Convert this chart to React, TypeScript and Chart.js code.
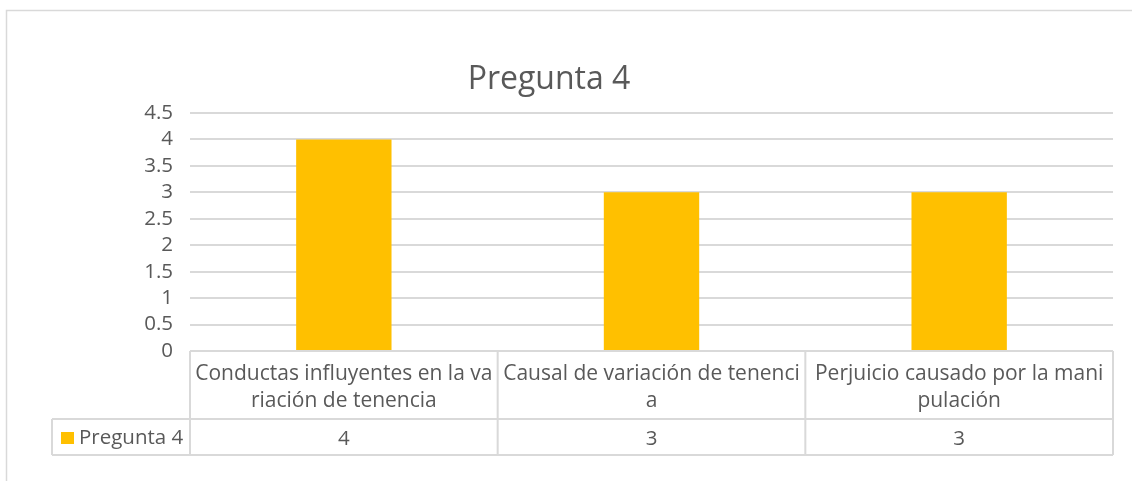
import React, { useEffect, useRef } from "react";
import { Chart, registerables } from "chart.js";

Chart.register(...registerables);

const title = "Pregunta 4";
const seriesName = "Pregunta 4";
const categories: string[][] = [
  ["Conductas influyentes en la va", "riación de tenencia"],
  ["Causal de variación de tenenci", "a"],
  ["Perjuicio causado por la mani", "pulación"],
];
const values: number[] = [4, 3, 3];
const yMin = 0;
const yMax = 4.5;
const yStep = 0.5;

const FONT = "'Open Sans', sans-serif";
const TEXT = "#595959";
const LINE = "#d9d9d9";
const BAR = "#FFC000";

const tablePlugin = {
  id: "excelTable",
  afterDraw(chart: any) {
    const { ctx, chartArea } = chart;
    const { left, right, bottom } = chartArea;
    const n = categories.length;
    const colW = (right - left) / n;
    const row1Top = bottom;
    const row1Bot = bottom + 68;
    const row2Bot = row1Bot + 36;
    const legendLeft = 52;
    ctx.save();
    ctx.strokeStyle = LINE;
    ctx.lineWidth = 1.5;
    ctx.beginPath();
    ctx.moveTo(6.5, chart.height);
    ctx.lineTo(6.5, 10.5);
    ctx.lineTo(chart.width, 10.5);
    ctx.stroke();
    ctx.fillStyle = TEXT;
    ctx.font = `32px ${FONT}`;
    ctx.textAlign = "center";
    ctx.textBaseline = "alphabetic";
    ctx.fillText(title, 549, 89);
    ctx.strokeStyle = LINE;
    ctx.lineWidth = 2;
    ctx.beginPath();
    ctx.moveTo(left, row1Top);
    ctx.lineTo(right, row1Top);
    ctx.moveTo(legendLeft, row1Bot);
    ctx.lineTo(right, row1Bot);
    ctx.moveTo(legendLeft, row2Bot);
    ctx.lineTo(right, row2Bot);
    for (let i = 0; i <= n; i++) {
      const x = left + i * colW;
      ctx.moveTo(x, row1Top);
      ctx.lineTo(x, row2Bot);
    }
    ctx.moveTo(legendLeft, row1Bot);
    ctx.lineTo(legendLeft, row2Bot);
    ctx.stroke();
    ctx.fillStyle = TEXT;
    ctx.textAlign = "center";
    ctx.textBaseline = "alphabetic";
    const xs = chart.scales.x;
    categories.forEach((lines, i) => {
      const cx = xs.getPixelForValue(i);
      ctx.font = `21px ${FONT}`;
      lines.forEach((ln, j) => {
        ctx.fillText(ln, cx, row1Top + 29 + j * 27);
      });
      ctx.font = `20.5px ${FONT}`;
      ctx.fillText(String(values[i]), cx, row2Bot - 10);
    });
    ctx.fillStyle = BAR;
    ctx.fillRect(61, 432, 13, 12);
    ctx.fillStyle = TEXT;
    ctx.textAlign = "left";
    ctx.font = `20.5px ${FONT}`;
    ctx.fillText(seriesName, 79, row2Bot - 11);
    ctx.restore();
  },
};

export default function App() {
  const ref = useRef<HTMLCanvasElement>(null);
  useEffect(() => {
    document.body.style.margin = "0";
    const chart = new Chart(ref.current!, {
      type: "bar",
      data: {
        labels: categories,
        datasets: [
          {
            label: seriesName,
            data: values,
            backgroundColor: BAR,
            categoryPercentage: 1,
            barPercentage: 0.31,
          },
        ],
      },
      options: {
        animation: false,
        responsive: false,
        layout: { padding: { top: 113, bottom: 130, right: 19, left: 0 } },
        plugins: {
          legend: { display: false },
          title: { display: false },
          tooltip: { enabled: false },
        },
        scales: {
          x: { display: false },
          y: {
            min: yMin,
            max: yMax,
            ticks: {
              stepSize: yStep,
              autoSkip: false,
              color: TEXT,
              font: { family: FONT, size: 20.5 },
              padding: 17,
              callback: (v: any) => String(Number(v)),
            },
            grid: { color: LINE, lineWidth: 2, drawTicks: false },
            border: { display: false },
            afterFit: (s: any) => {
              s.width = 190;
            },
          },
        },
      },
      plugins: [tablePlugin],
    });
    return () => chart.destroy();
  }, []);
  return (
    <div style={{ width: 1132, height: 481, background: "#fff" }}>
      <canvas ref={ref} width={1132} height={481} />
    </div>
  );
}
